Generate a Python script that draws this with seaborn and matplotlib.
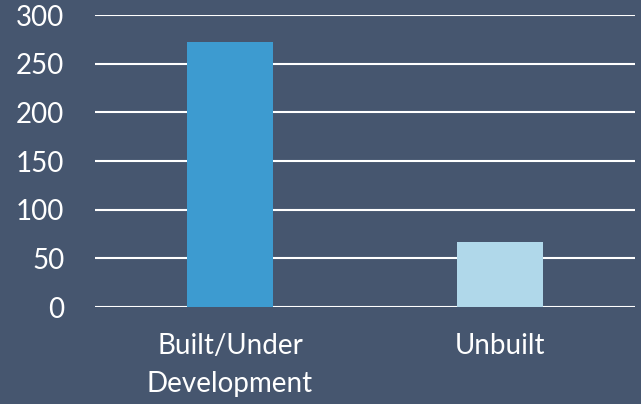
import matplotlib
matplotlib.use("Agg")
import matplotlib.pyplot as plt
import seaborn as sns
import pandas as pd

categories = ["Built/Under\nDevelopment", "Unbuilt"]
values = [272, 67]
bar_colors = ["#3d9bd0", "#b0d8ea"]
y_ticks = [0, 50, 100, 150, 200, 250, 300]

bg = "#46566f"

sns.set_theme(style="white")
plt.rcParams['font.family'] = ['Lato', 'DejaVu Sans']

df = pd.DataFrame({"Category": categories, "Count": values})

fig = plt.figure(figsize=(6.41, 4.04), dpi=100, facecolor=bg)
ax = fig.add_axes([95 / 641, 1 - 307 / 404, 540 / 641, 292 / 404])
ax.set_facecolor(bg)

# horizontal grid drawn behind bars
for t in y_ticks:
    ax.axhline(t, color="white", linewidth=1.5, zorder=0)

sns.barplot(data=df, x="Category", y="Count", hue="Category",
            palette=bar_colors, width=0.315, legend=False, ax=ax,
            saturation=1, linewidth=0, zorder=2)

ax.set_ylim(0, 300)
ax.set_xlim(-0.5, 1.5)
ax.set_yticks(y_ticks)
ax.set_xlabel("")
ax.set_ylabel("")
ax.tick_params(axis="y", colors="white", labelsize=20, length=0, pad=22)
ax.tick_params(axis="x", colors="white", labelsize=20, length=0, pad=19)
for lbl in ax.get_xticklabels():
    lbl.set_linespacing(1.55)
for s in ax.spines.values():
    s.set_visible(False)

fig.savefig("out.png", dpi=100, facecolor=bg)
